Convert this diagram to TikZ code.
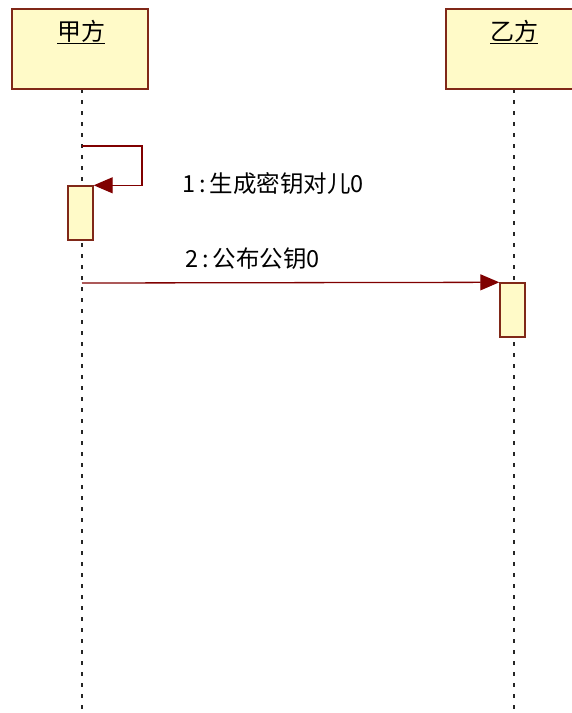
\documentclass[tikz,border=0pt]{standalone}
\usepackage{fontspec}
\newfontfamily\cjk{Noto Sans CJK SC}
\usetikzlibrary{arrows.meta}
\definecolor{boxfill}{RGB}{255,250,200}
\definecolor{boxline}{RGB}{128,40,24}
\definecolor{msgcol}{RGB}{128,0,0}
\tikzset{
  headbox/.style={draw=boxline, line width=1.4pt, fill=boxfill, minimum width=136pt, minimum height=80pt, inner sep=0pt},
  headtext/.style={font=\cjk\fontsize{24}{26}\selectfont, inner sep=0pt},
  actbox/.style={draw=boxline, line width=1.4pt, fill=boxfill, minimum width=25pt, minimum height=54pt, inner sep=0pt},
  lifeline/.style={line width=1.3pt, black!85, dash pattern=on 4pt off 7pt},
  msg/.style={draw=msgcol, line width=1.3pt, -{Triangle[length=19pt,width=16pt]}},
  msglabel/.style={font=\cjk\fontsize{23.5}{26}\selectfont, inner sep=0pt, anchor=west}
}
\begin{document}
\begin{tikzpicture}[x=1pt,y=-1pt]
\useasboundingbox (0,0) rectangle (572,713);
\clip (0,0) rectangle (572,713);
% lifelines
\coordinate (a0) at (82,89);
\coordinate (a1) at (82,713);
\coordinate (b0) at (514,89);
\coordinate (b1) at (514,713);
\draw[lifeline] (a0) -- (a1);
\draw[lifeline] (b0) -- (b1);
% heads
\node[headbox] (A) at (80,49) {};
\node[headbox] (B) at (514,49) {};
\node[headtext] (At) at (81,32) {\underline{甲方}};
\node[headtext] (Bt) at (514,32) {\underline{乙方}};
% activations
\node[actbox] (act1) at (80.5,213) {};
\node[actbox] (act2) at (512.5,310) {};
% self message
\coordinate (s0) at (82,146);
\draw[msg] (s0) -- ++(60,0) |- (act1.north east);
\node[msglabel] (l1) at (182,184) {1\,:\,生成密钥对儿0};
% message 2
\coordinate (m0) at (82,283);
\draw[msg] (m0) -- (act2.north west);
\node[msglabel] (l2) at (185,259) {2\,:\,公布公钥0};
\end{tikzpicture}
\end{document}
